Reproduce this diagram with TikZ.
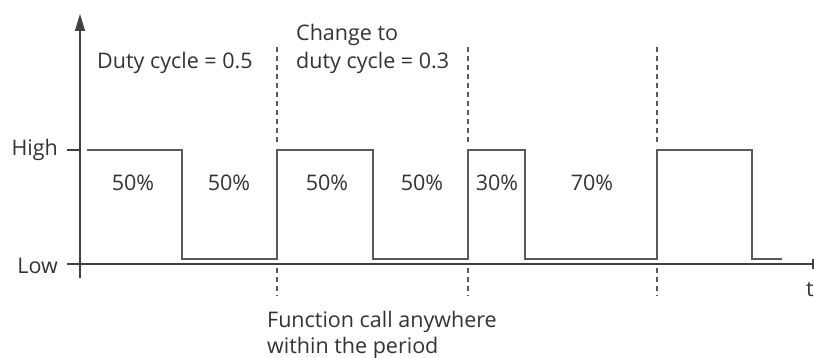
\documentclass[tikz,border=0pt]{standalone}
\usepackage{fontspec}
\setmainfont{Open Sans}
\usetikzlibrary{arrows.meta}
\definecolor{txt}{HTML}{333333}
\definecolor{sig}{HTML}{5A5A5A}
\definecolor{axc}{HTML}{404040}
\tikzset{
  lbl/.style={text=txt, font=\fontsize{21.5}{26}\selectfont, inner sep=0pt},
  axisline/.style={draw=axc, line width=1.3pt},
  sigline/.style={draw=sig, line width=2.8pt, line join=miter},
  guide/.style={draw=sig, line width=1.1pt, dash pattern=on 5pt off 4pt},
}
\begin{document}
\begin{tikzpicture}[x=1pt,y=-1pt]
\useasboundingbox (0,0) rectangle (814,358);
% axes
\coordinate (o) at (80,264);
\coordinate (ytop) at (80,14);
\coordinate (ybot) at (80,278);
\coordinate (xl) at (67,264);
\coordinate (xr) at (814,264);
\draw[axisline, -{Triangle[length=17pt,width=10pt]}] (ybot) -- (ytop);
\draw[axisline, -{Rectangle[length=2pt,width=9pt]}] (xl) -- (xr);
\coordinate (hl) at (67,150);
\coordinate (hr) at (80,150);
\draw[axisline] (hl) -- (hr);
% signal
\draw[sigline] (87,150) -- (182,150) -- (182,259) -- (277,259) -- (277,150)
  -- (373,150) -- (373,259) -- (468,259) -- (468,150) -- (525,150) -- (525,259)
  -- (657,259) -- (657,150) -- (752,150) -- (752,259) -- (782,259);
% guides
\foreach \x/\n in {277/a,468/b,657/c}{
  \coordinate (gt\n) at (\x,47);
  \coordinate (gm\n) at (\x,146);
  \coordinate (gb\n) at (\x,268);
  \coordinate (ge\n) at (\x,296);
  \draw[guide] (gt\n) -- (gm\n);
  \draw[guide] (gb\n) -- (ge\n);
}
% labels
\node[lbl, anchor=east] (high) at (58,150) {High};
\node[lbl, anchor=east] (low) at (58,266) {Low};
\node[lbl, anchor=west] (t) at (806,290) {t};
\node[lbl, anchor=west] (dc1) at (97,63) {Duty cycle = 0.5};
\node[lbl, anchor=west] (ch1) at (296,35) {Change to};
\node[lbl, anchor=west] (ch2) at (296,63) {duty cycle = 0.3};
\node[lbl] (p1) at (133,183) {50\%};
\node[lbl] (p2) at (229,183) {50\%};
\node[lbl] (p3) at (327,183) {50\%};
\node[lbl] (p4) at (422,183) {50\%};
\node[lbl] (p5) at (497,183) {30\%};
\node[lbl] (p6) at (592,183) {70\%};
\node[lbl, anchor=west] (f1) at (267,322) {Function call anywhere};
\node[lbl, anchor=west] (f2) at (267,348) {within the period};
\end{tikzpicture}
\end{document}
